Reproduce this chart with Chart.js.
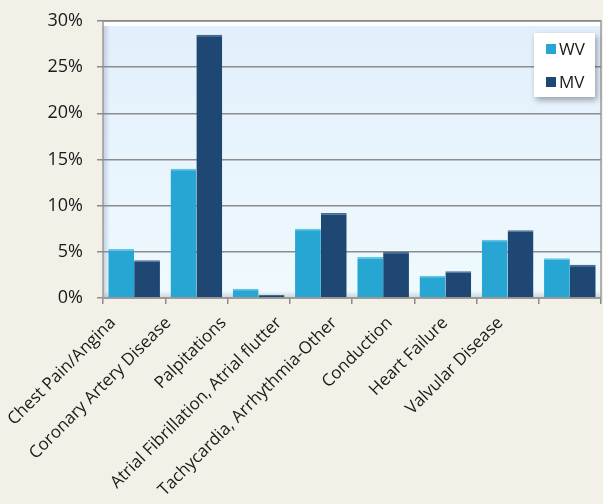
<!DOCTYPE html>
<html lang="en">
<head>
    <meta charset="UTF-8">
    <title>WV vs MV</title>
    <script src="https://cdn.jsdelivr.net/npm/chart.js"></script>
    <style>
        body { margin: 0; background: #f3f0e8; }
        .wrap { width: 603px; height: 504px; }
    </style>
</head>
<body>
    <div class="wrap">
        <canvas id="chart" width="603" height="504"></canvas>
    </div>
    <script>
        const categories = ['Chest Pain/Angina', 'Coronary Artery Disease', 'Palpitations',
            'Atrial Fibrillation, Atrial flutter', 'Tachycardia, Arrhythmia-Other',
            'Conduction', 'Heart Failure', 'Valvular Disease'];
        const wvValues = [5.3, 14.0, 1.0, 7.5, 4.45, 2.4, 6.3, 4.3];
        const mvValues = [4.1, 28.5, 0.35, 9.2, 5.0, 2.9, 7.35, 3.6];
        const yTicks = [0, 5, 10, 15, 20, 25, 30];
        // names are set on a tighter pitch than the bars, so pad the label axis
        const nameSlots = categories.concat(['', '']);

        // plot area background + bevel, and the boxed legend
        const plotBg = {
            id: 'plotBg',
            beforeDraw(chart) {
                const { ctx, chartArea: a } = chart;
                ctx.save();
                const g = ctx.createLinearGradient(0, a.top, 0, a.bottom);
                g.addColorStop(0, '#e2eefb');
                g.addColorStop(1, '#effafe');
                ctx.fillStyle = g;
                ctx.fillRect(a.left, a.top, a.right - a.left, a.bottom - a.top);
                const s = ctx.createLinearGradient(a.left, 0, a.left + 7, 0);
                s.addColorStop(0, 'rgba(140,160,190,0.45)');
                s.addColorStop(1, 'rgba(140,160,190,0)');
                ctx.fillStyle = s;
                ctx.fillRect(a.left, a.top, 7, a.bottom - a.top);
                const b = ctx.createLinearGradient(0, a.bottom - 7, 0, a.bottom);
                b.addColorStop(0, 'rgba(140,150,170,0)');
                b.addColorStop(1, 'rgba(140,150,170,0.4)');
                ctx.fillStyle = b;
                ctx.fillRect(a.left, a.bottom - 7, a.right - a.left, 7);
                ctx.fillStyle = '#ffffff';
                ctx.fillRect(a.left, a.top + 1, a.right - a.left, 4);
                ctx.strokeStyle = '#9a9a9a';
                ctx.lineWidth = 1.5;
                ctx.strokeRect(a.left, a.top, a.right - a.left, a.bottom - a.top);
                ctx.restore();
            },
            afterDraw(chart) {
                const { ctx, chartArea: a } = chart;
                const ds = chart.data.datasets;
                const w = 61, h = 64;
                const x = a.right - w - 6, y = a.top + 12;
                ctx.save();
                ctx.shadowColor = 'rgba(0,0,0,0.35)';
                ctx.shadowBlur = 6;
                ctx.shadowOffsetX = 2;
                ctx.shadowOffsetY = 3;
                ctx.fillStyle = '#ffffff';
                ctx.fillRect(x, y, w, h);
                ctx.restore();
                ctx.save();
                ctx.font = '17px "Open Sans"';
                ctx.textBaseline = 'middle';
                ds.forEach((d, i) => {
                    const cy = y + 16 + i * 33;
                    ctx.fillStyle = d.backgroundColor;
                    ctx.fillRect(x + 12, cy - 5, 10, 10);
                    ctx.fillStyle = '#1a1a1a';
                    ctx.fillText(d.label, x + 25, cy + 1);
                });
                ctx.restore();
            }
        };

        new Chart(document.getElementById('chart'), {
            type: 'bar',
            data: {
                labels: categories,
                datasets: [
                    { label: 'WV', data: wvValues, backgroundColor: '#27a6d3',
                      borderColor: '#62c3e6', borderWidth: { top: 1.5, left: 0, right: 0, bottom: 0 } },
                    { label: 'MV', data: mvValues, backgroundColor: '#1e4873',
                      borderColor: '#46698f', borderWidth: { top: 1.5, left: 0, right: 0, bottom: 0 } }
                ]
            },
            options: {
                responsive: false,
                animation: false,
                layout: { padding: { top: 21, right: 2, left: 0, bottom: 0 } },
                datasets: {
                    bar: { categoryPercentage: 0.83, barPercentage: 1.0 }
                },
                plugins: {
                    legend: { display: false },
                    tooltip: { enabled: false }
                },
                scales: {
                    x: {
                        offset: true,
                        weight: 0,
                        grid: { display: true, drawOnChartArea: false, offset: true, color: '#8a8a8a', lineWidth: 1.5, tickLength: 6 },
                        border: { color: '#9a9a9a', width: 1.5 },
                        ticks: { display: false },
                        afterFit(scale) { scale.height = 6; }
                    },
                    names: {
                        type: 'category',
                        labels: nameSlots,
                        position: 'bottom',
                        weight: 1,
                        offset: false,
                        grid: { display: false, drawTicks: false },
                        border: { display: false },
                        ticks: {
                            color: '#1a1a1a',
                            font: { family: 'Open Sans', size: 17 },
                            minRotation: 45,
                            maxRotation: 45,
                            autoSkip: false,
                            padding: 9,
                            labelOffset: 10
                        },
                        afterFit(scale) {
                            scale.height = 200;
                            scale.paddingLeft = 0;
                            scale.paddingRight = 0;
                        }
                    },
                    y: {
                        min: 0,
                        max: 30,
                        afterBuildTicks(scale) { scale.ticks = yTicks.map(v => ({ value: v })); },
                        grid: { color: '#8c8c8c', lineWidth: 1.5, tickLength: 6 },
                        border: { display: false },
                        ticks: {
                            color: '#1a1a1a',
                            font: { family: 'Open Sans', size: 18 },
                            padding: 14,
                            callback: v => v + '%'
                        },
                        afterFit(scale) {
                            scale.width = 103;
                            scale.paddingTop = 0;
                            scale.paddingBottom = 0;
                        }
                    }
                }
            },
            plugins: [plotBg]
        });
    </script>
</body>
</html>
